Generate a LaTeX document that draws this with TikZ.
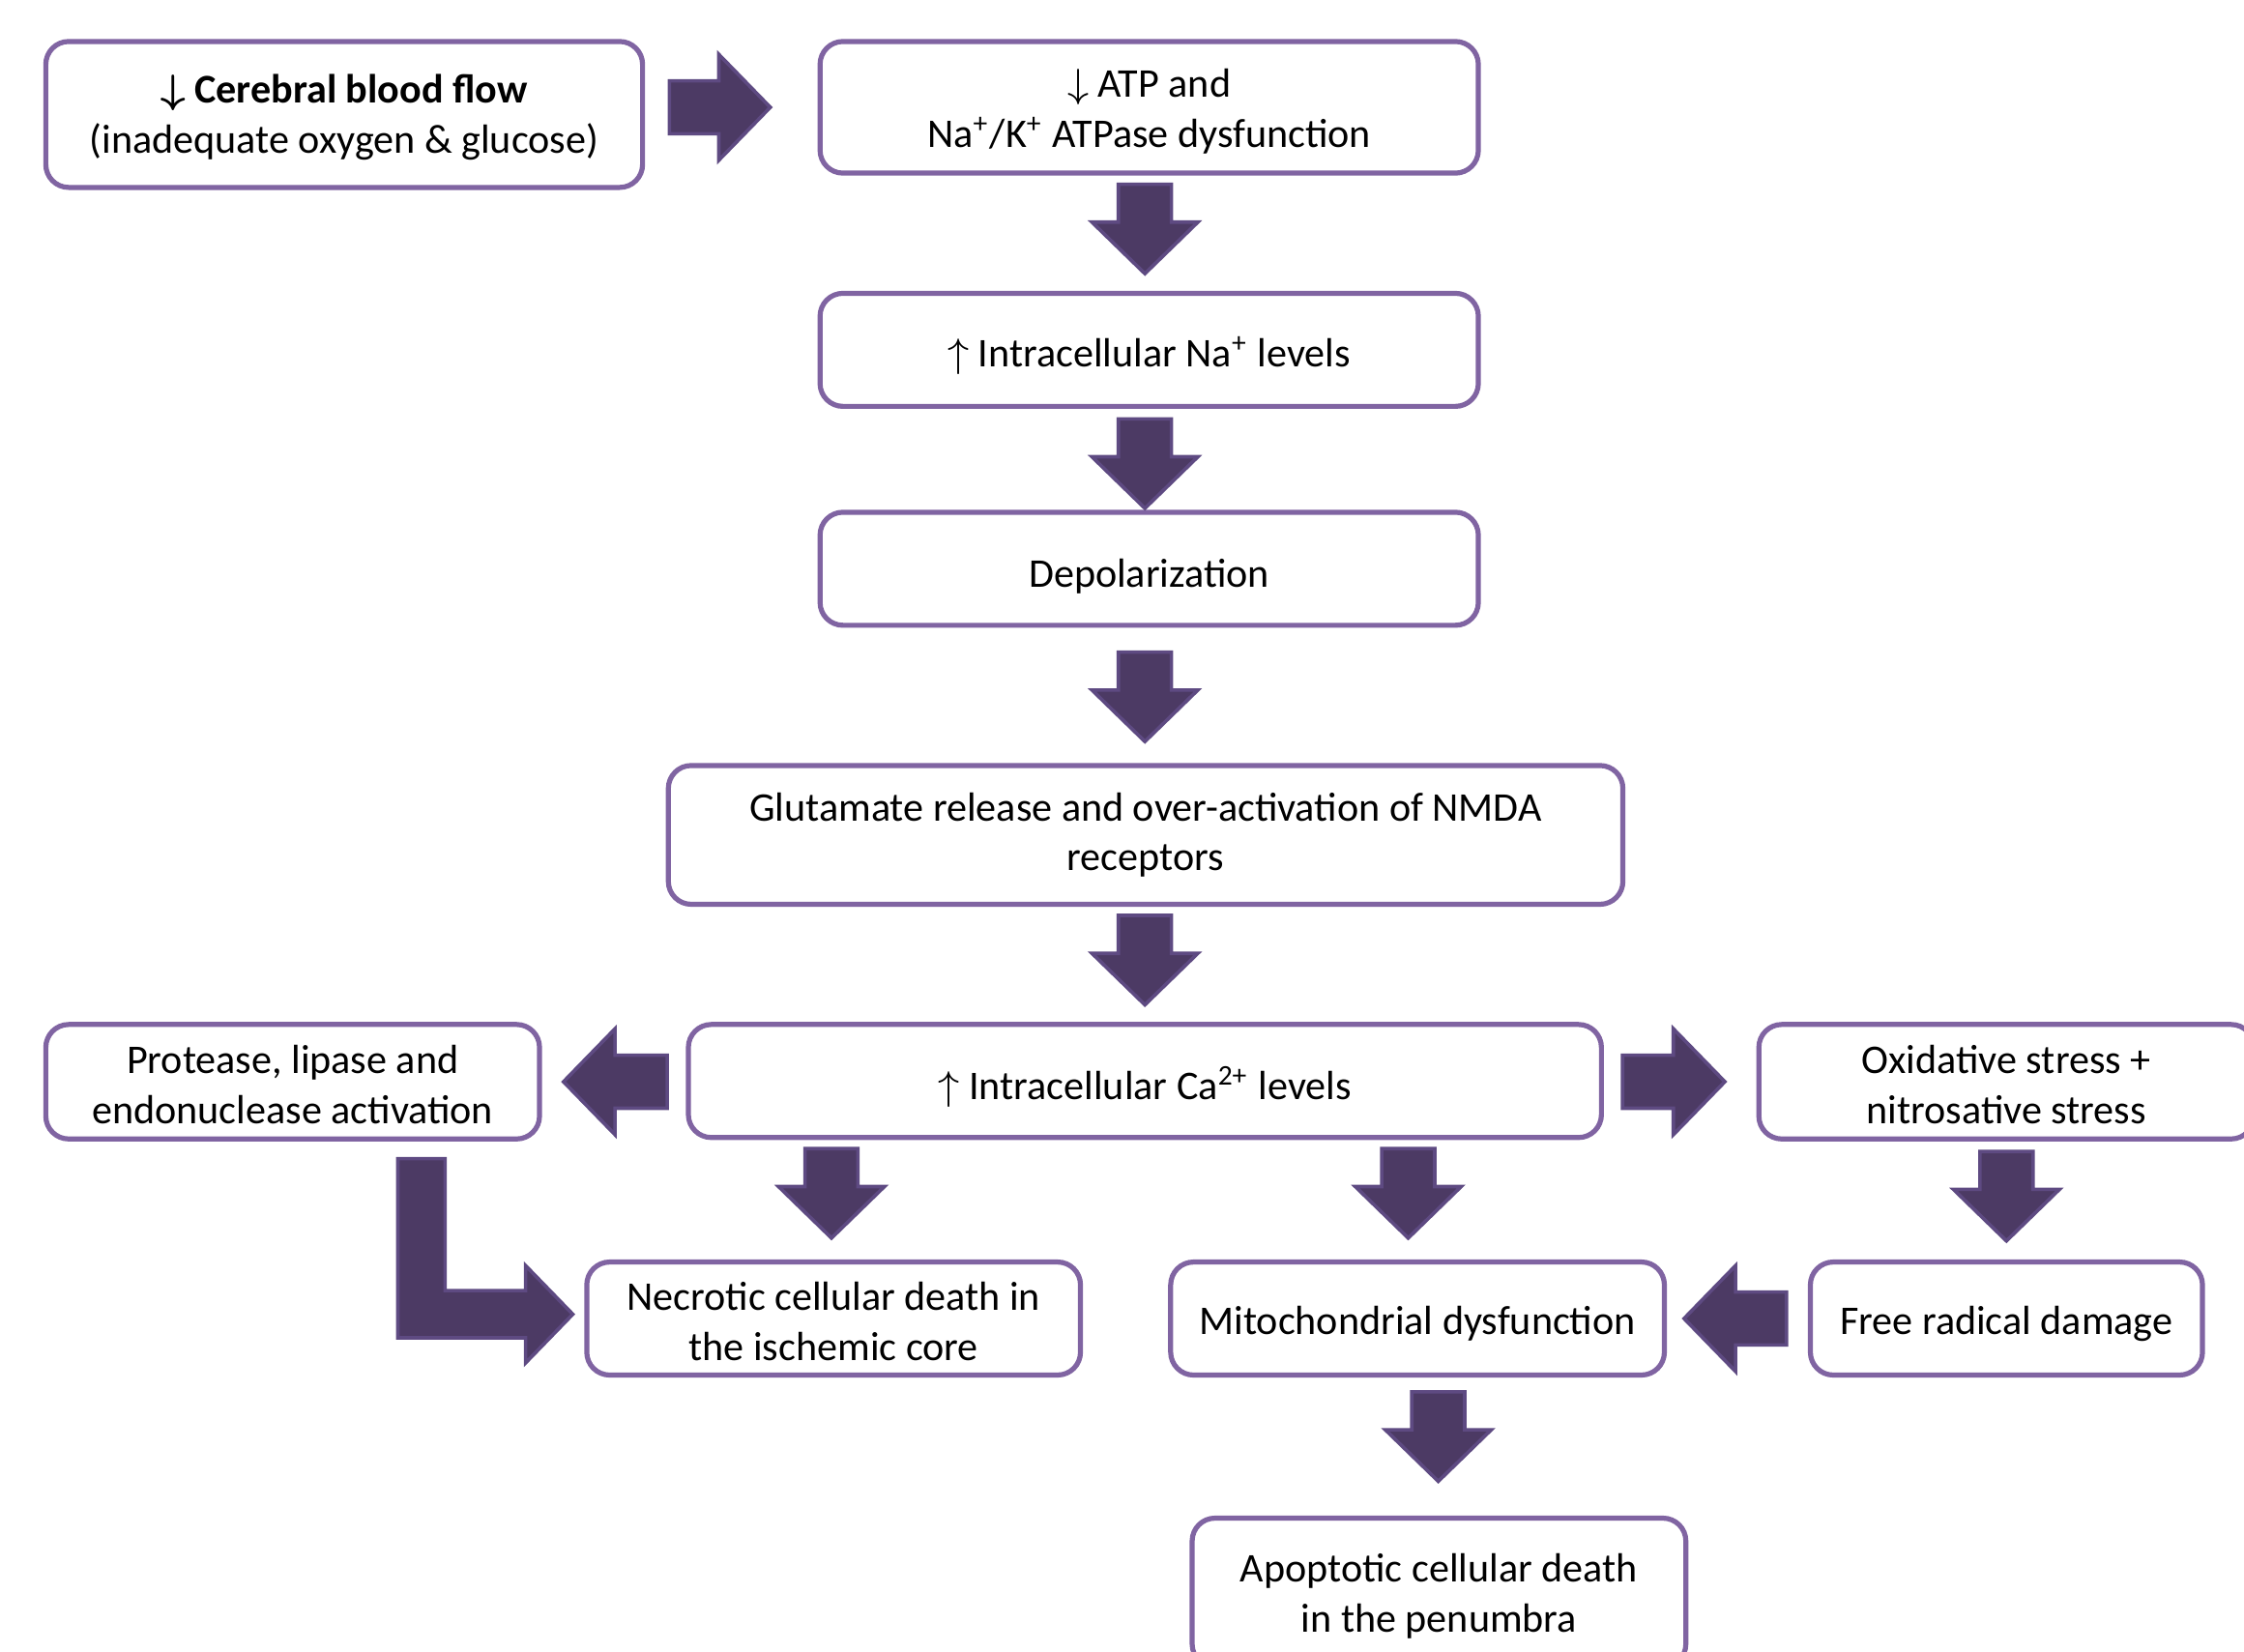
\documentclass[tikz,border=0pt]{standalone}
\usepackage{fontspec}
\setmainfont{Carlito}
\usetikzlibrary{calc}
\definecolor{boxc}{HTML}{8064A2}
\definecolor{arrf}{HTML}{4C3A64}
\definecolor{arrd}{HTML}{5E4A82}
\def\ashaft{1.85mm}
\def\ahead{3.7mm}
\def\alen{3.6mm}
\newcommand\arrD[2]{\filldraw[blockarrow] let \p1=(#1),\p2=(#2) in
  (\x2-\ashaft,\y1) -- (\x2+\ashaft,\y1) -- (\x2+\ashaft,\y2+\alen) -- (\x2+\ahead,\y2+\alen)
  -- (\x2,\y2) -- (\x2-\ahead,\y2+\alen) -- (\x2-\ashaft,\y2+\alen) -- cycle;}
\newcommand\arrR[2]{\filldraw[blockarrow] let \p1=(#1),\p2=(#2) in
  (\x1,\y2-\ashaft) -- (\x2-\alen,\y2-\ashaft) -- (\x2-\alen,\y2-\ahead) -- (\x2,\y2)
  -- (\x2-\alen,\y2+\ahead) -- (\x2-\alen,\y2+\ashaft) -- (\x1,\y2+\ashaft) -- cycle;}
\newcommand\arrL[2]{\filldraw[blockarrow] let \p1=(#1),\p2=(#2) in
  (\x1,\y2-\ashaft) -- (\x2+\alen,\y2-\ashaft) -- (\x2+\alen,\y2-\ahead) -- (\x2,\y2)
  -- (\x2+\alen,\y2+\ahead) -- (\x2+\alen,\y2+\ashaft) -- (\x1,\y2+\ashaft) -- cycle;}
% box: name, centre, width, height, text offset, text
\newcommand\bx[6]{%
  \node[box, minimum width=#3, minimum height=#4] (#1) at #2 {};
  \node[boxtext] (#1-t) at ($(#1.center)+(0,#5)$) {#6};}
\tikzset{
  box/.style={draw=boxc, line width=1pt, rounded corners=1.6mm, fill=white, inner sep=0pt},
  boxtext/.style={align=center, inner sep=0pt, font=\fontsize{8.1}{9.9}\selectfont},
  blockarrow/.style={fill=arrf, draw=arrd, line width=0.7pt, line join=miter}
}
\begin{document}
\begin{tikzpicture}[x=0.1mm,y=-0.1mm]
\clip (0,0) rectangle (1568,1154);
\fill[white] (0,0) rectangle (1568,1154);
% boxes
\bx{cbf}{(240.5,80)}{41.7mm}{10.2mm}{2}
  {{\boldmath$\downarrow$} \textbf{Cerebral blood flow}\\(inadequate oxygen \& glucose)}
\bx{atp}{(803,75)}{46mm}{9.2mm}{3}
  {$\downarrow$ ATP and\\Na\textsuperscript{+}/K\textsuperscript{+} ATPase dysfunction}
\bx{na}{(803,244.5)}{46mm}{7.9mm}{4}
  {$\uparrow$ Intracellular Na\textsuperscript{+} levels}
\bx{depol}{(803,397.5)}{46mm}{7.9mm}{5.5}
  {Depolarization}
\bx{glu}{(800.5,583.5)}{66.7mm}{9.7mm}{0}
  {Glutamate release and over-activation of NMDA\\receptors}
\bx{ca}{(800,755.5)}{63.8mm}{7.9mm}{4}
  {$\uparrow$ Intracellular Ca\textsuperscript{2+} levels}
\bx{prot}{(204.5,756)}{34.5mm}{8.0mm}{2}
  {Protease, lipase and\\endonuclease activation}
\bx{ox}{(1402,756)}{34.6mm}{8.0mm}{2}
  {Oxidative stress +\\nitrosative stress}
\bx{necro}{(582.5,921.5)}{34.5mm}{7.9mm}{2}
  {Necrotic cellular death in\\the ischemic core}
\bx{mito}{(990.5,921.5)}{34.5mm}{7.9mm}{3.5}
  {Mitochondrial dysfunction}
\bx{free}{(1402,921.5)}{27.4mm}{7.9mm}{3.5}
  {Free radical damage}
\bx{apo}{(1005.5,1113)}{34.5mm}{10.4mm}{2.5}
  {Apoptotic cellular death\\in the penumbra}
% arrows
\arrR{$(cbf.east)+(17,0)$}{$(atp.west)+(-33,0)$}
\arrD{$(atp.south)+(0,6)$}{$(na.north)+(-3,-12)$}
\arrD{$(na.south)+(0,7)$}{$(depol.north)+(-3,-1)$}
\arrD{$(depol.south)+(0,17)$}{$(glu.north)+(-0.5,-15)$}
\arrD{$(glu.south)+(0,6)$}{$(ca.north)+(0,-12)$}
\arrL{$(ca.west)+(-13,0)$}{$(prot.east)+(15,0)$}
\arrR{$(ca.east)+(13,0)$}{$(ox.west)+(-22,0)$}
\arrD{$(ca.south)+(0,6)$}{$(necro.north)+(-1.5,-15)$}
\arrD{$(ca.south)+(0,6)$}{$(mito.north)+(-6.5,-15)$}
\arrD{$(ox.south)+(0,7)$}{$(free.north)+(0,-13)$}
\arrL{$(free.west)+(-15,0)$}{$(mito.east)+(12,0)$}
\arrD{$(mito.south)+(0,10)$}{$(apo.north)+(-0.5,-24)$}
% bent arrow
\filldraw[blockarrow] let \p1=($(prot.south)+(90,12)$), \p2=($(necro.west)+(-8,-3)$) in
  (\x1-1.65mm,\y1) -- (\x1+1.65mm,\y1) -- (\x1+1.65mm,\y2+1.65mm) -- (\x2-3.3mm,\y2+1.65mm)
  -- (\x2-3.3mm,\y2+3.4mm) -- (\x2,\y2) -- (\x2-3.3mm,\y2-3.4mm) -- (\x2-3.3mm,\y2-1.65mm)
  -- (\x1-1.65mm,\y2-1.65mm) -- cycle;
\end{tikzpicture}
\end{document}
